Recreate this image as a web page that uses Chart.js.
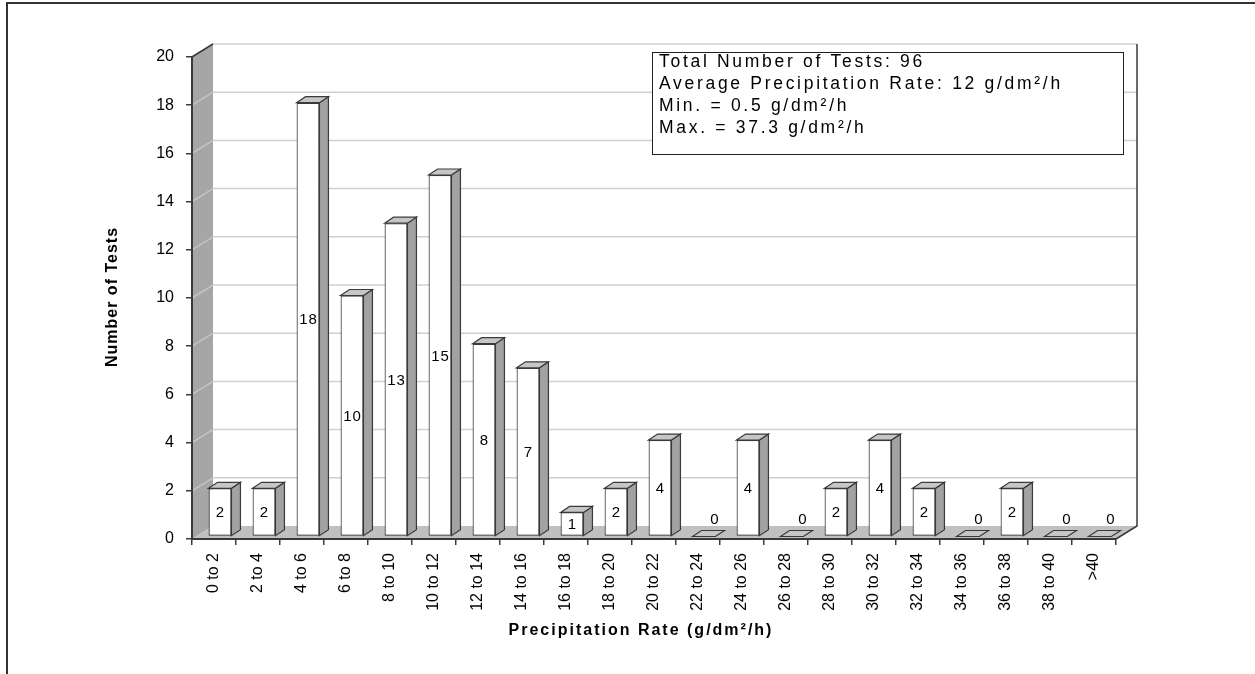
<!DOCTYPE html>
<html>
<head>
<meta charset="utf-8">
<script src="https://cdn.jsdelivr.net/npm/chart.js@4/dist/chart.umd.min.js"></script>
<style>
  html, body { margin: 0; padding: 0; background: #fff; }
  canvas { display: block; }
</style>
</head>
<body>
<canvas id="chart" width="1255" height="674"></canvas>
<script>
// Precipitation rate classes (g/dm²/h) and number of tests in each class
const categories = ['0 to 2', '2 to 4', '4 to 6', '6 to 8', '8 to 10', '10 to 12', '12 to 14',
  '14 to 16', '16 to 18', '18 to 20', '20 to 22', '22 to 24', '24 to 26', '26 to 28',
  '28 to 30', '30 to 32', '32 to 34', '34 to 36', '36 to 38', '38 to 40', '>40'];
const testCounts = [2, 2, 18, 10, 13, 15, 8, 7, 1, 2, 4, 0, 4, 0, 2, 4, 2, 0, 2, 0, 0];
const yAxisRange = [0, 20];
const yAxisStep = 2;
const summaryLines = [
  'Total Number of Tests: 96',
  'Average Precipitation Rate: 12 g/dm²/h',
  'Min. = 0.5 g/dm²/h',
  'Max. = 37.3 g/dm²/h'
];
const xAxisTitle = 'Precipitation Rate (g/dm²/h)';
const yAxisTitle = 'Number of Tests';

// Depth of the box walls and of each column
const WALL_DX = 21, WALL_DY = 13;
const BAR_SHIFT_X = 6, BAR_SHIFT_Y = 2.5;
const BAR_DX = 9, BAR_DY = 6;
const EDGE = '#3a3a3a';
const FONT = "'Liberation Sans', Arial, sans-serif";

function poly(ctx, pts, fill, stroke, lw) {
  ctx.beginPath();
  ctx.moveTo(pts[0][0], pts[0][1]);
  for (let i = 1; i < pts.length; i++) ctx.lineTo(pts[i][0], pts[i][1]);
  ctx.closePath();
  if (fill) { ctx.fillStyle = fill; ctx.fill(); }
  if (stroke) { ctx.strokeStyle = stroke; ctx.lineWidth = lw || 1; ctx.stroke(); }
}

const box3d = {
  id: 'box3d',
  beforeDraw(chart) {
    const ctx = chart.ctx;
    const a = chart.chartArea;
    const y = chart.scales.y;
    ctx.save();
    ctx.fillStyle = '#fff';
    ctx.fillRect(0, 0, chart.width, chart.height);

    // outer frame
    ctx.strokeStyle = '#333';
    ctx.lineWidth = 2;
    ctx.beginPath();
    ctx.moveTo(7, chart.height);
    ctx.lineTo(7, 3);
    ctx.lineTo(chart.width, 3);
    ctx.stroke();

    // left wall
    poly(ctx, [[a.left, a.top], [a.left + WALL_DX, a.top - WALL_DY],
               [a.left + WALL_DX, a.bottom - WALL_DY], [a.left, a.bottom]], '#a6a6a6');
    // floor
    poly(ctx, [[a.left, a.bottom], [a.right, a.bottom],
               [a.right + WALL_DX, a.bottom - WALL_DY], [a.left + WALL_DX, a.bottom - WALL_DY]], '#c0c0c0');

    // gridlines on the wall and on the back
    ctx.lineWidth = 1.5;
    for (let v = yAxisRange[0] + yAxisStep; v <= yAxisRange[1]; v += yAxisStep) {
      const py = y.getPixelForValue(v);
      ctx.strokeStyle = '#c4c4c4';
      ctx.beginPath();
      ctx.moveTo(a.left, py);
      ctx.lineTo(a.left + WALL_DX, py - WALL_DY);
      ctx.stroke();
      ctx.strokeStyle = '#d0d0d0';
      ctx.beginPath();
      ctx.moveTo(a.left + WALL_DX, py - WALL_DY);
      ctx.lineTo(a.right + WALL_DX, py - WALL_DY);
      ctx.stroke();
    }

    // outlines of the walls
    ctx.strokeStyle = EDGE;
    ctx.lineWidth = 1.5;
    ctx.beginPath();
    ctx.moveTo(a.left, a.top);
    ctx.lineTo(a.left + WALL_DX, a.top - WALL_DY);
    ctx.moveTo(a.right, a.bottom);
    ctx.lineTo(a.right + WALL_DX, a.bottom - WALL_DY);
    ctx.lineTo(a.right + WALL_DX, a.top - WALL_DY);
    ctx.stroke();
    ctx.restore();
  },
  beforeDatasetsDraw(chart) {
    chart.ctx.save();
    chart.ctx.translate(BAR_SHIFT_X, -BAR_SHIFT_Y);
  },
  afterDatasetsDraw(chart) {
    const ctx = chart.ctx;
    ctx.restore();
    const meta = chart.getDatasetMeta(0);
    const data = chart.data.datasets[0].data;
    ctx.save();
    meta.data.forEach((el, i) => {
      const p = el.getProps(['x', 'y', 'base', 'width'], true);
      const x1 = p.x - p.width / 2 + BAR_SHIFT_X;
      const x2 = p.x + p.width / 2 + BAR_SHIFT_X;
      const top = p.y - BAR_SHIFT_Y;
      const bot = p.base - BAR_SHIFT_Y;
      if (data[i] > 0) {
        poly(ctx, [[x2, top], [x2 + BAR_DX, top - BAR_DY], [x2 + BAR_DX, bot - BAR_DY], [x2, bot]],
             '#a2a2a2', EDGE, 1.2);
      }
      poly(ctx, [[x1, top], [x1 + BAR_DX, top - BAR_DY], [x2 + BAR_DX, top - BAR_DY], [x2, top]],
           '#c6c6c6', EDGE, 1.2);
    });

    // value labels
    ctx.fillStyle = '#000';
    ctx.font = '15px ' + FONT;
    ctx.letterSpacing = '1px';
    ctx.textAlign = 'center';
    ctx.textBaseline = 'middle';
    meta.data.forEach((el, i) => {
      const p = el.getProps(['x', 'y', 'base', 'width'], true);
      const cx = p.x + BAR_SHIFT_X;
      const top = p.y - BAR_SHIFT_Y;
      const bot = p.base - BAR_SHIFT_Y;
      if (data[i] > 0) {
        ctx.fillText(String(data[i]), cx + 0.5, (top + bot) / 2 + 1);
      } else {
        ctx.fillText(String(data[i]), cx + 11, top - 17);
      }
    });
    ctx.restore();
  },
  afterDraw(chart) {
    const ctx = chart.ctx;
    ctx.save();
    // summary box
    ctx.fillStyle = '#fff';
    ctx.fillRect(652.5, 52.5, 471, 102);
    ctx.strokeStyle = '#222';
    ctx.lineWidth = 1;
    ctx.strokeRect(652.5, 52.5, 471, 102);
    ctx.fillStyle = '#000';
    ctx.font = '17.5px ' + FONT;
    ctx.letterSpacing = '2.7px';
    ctx.textAlign = 'left';
    ctx.textBaseline = 'middle';
    summaryLines.forEach((t, i) => ctx.fillText(t, 659, 62 + i * 22));

    // axis titles
    ctx.font = 'bold 16px ' + FONT;
    ctx.letterSpacing = '2px';
    ctx.textAlign = 'center';
    ctx.fillText(xAxisTitle, 641, 631);
    ctx.translate(113, 297);
    ctx.rotate(-Math.PI / 2);
    ctx.letterSpacing = '1px';
    ctx.fillText(yAxisTitle, 0, 0);
    ctx.restore();
  }
};

new Chart(document.getElementById('chart'), {
  type: 'bar',
  data: {
    labels: categories,
    datasets: [{
      data: testCounts,
      backgroundColor: '#ffffff',
      borderColor: EDGE,
      borderWidth: 1.2,
      borderSkipped: false,
      barPercentage: 0.52,
      categoryPercentage: 1
    }]
  },
  options: {
    responsive: false,
    animation: false,
    layout: { padding: { top: 57, right: 139, left: 0, bottom: 0 } },
    plugins: { legend: { display: false }, tooltip: { enabled: false } },
    scales: {
      x: {
        afterFit(s) { s.height = 135; },
        grid: { drawOnChartArea: false, drawTicks: true, tickLength: 6, tickColor: EDGE, lineWidth: 1.5 },
        border: { display: true, color: EDGE, width: 2 },
        ticks: {
          autoSkip: false, maxRotation: 90, minRotation: 90, padding: 8,
          color: '#000', font: { family: FONT, size: 16 }
        }
      },
      y: {
        min: yAxisRange[0], max: yAxisRange[1],
        afterFit(s) { s.width = 192; },
        grid: { drawOnChartArea: false, drawTicks: true, tickLength: 6, tickColor: EDGE, lineWidth: 1.5 },
        border: { display: true, color: EDGE, width: 2 },
        ticks: { stepSize: yAxisStep, padding: 12, color: '#000', font: { family: FONT, size: 16 } }
      }
    }
  },
  plugins: [box3d]
});
</script>
</body>
</html>
